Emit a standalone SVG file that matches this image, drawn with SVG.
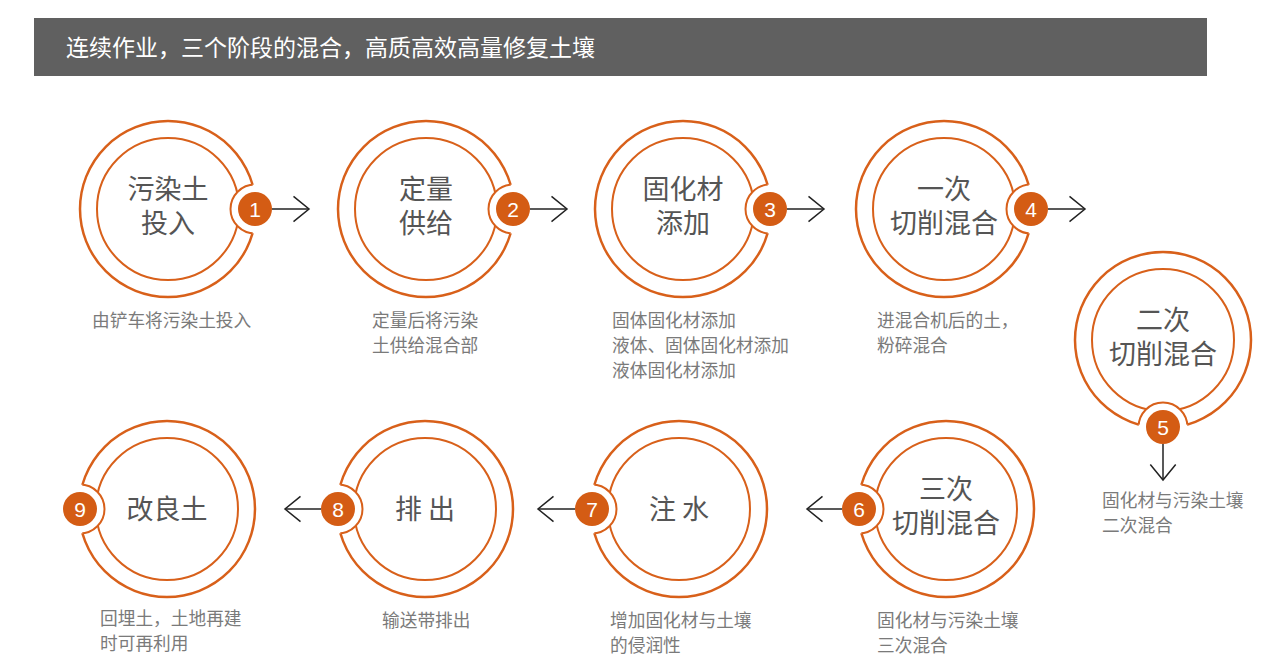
<svg xmlns="http://www.w3.org/2000/svg" width="1278" height="672" viewBox="0 0 1278 672">
<style>
.bg{fill:#ffffff}
.ring{fill:none;stroke:#d8601a;stroke-width:2.5}
.inner{fill:none;stroke:#d8601a;stroke-width:2}
.gap{fill:#ffffff;stroke:none}
.gaparc{fill:none;stroke:#d8601a;stroke-width:2}
.badge{fill:#d45c14}
.num{font-family:"Liberation Sans",Arial,sans-serif;font-size:21px;fill:#ffffff;text-anchor:middle}
.title{font-family:"Noto Sans CJK SC",sans-serif;font-size:27px;fill:#555555;text-anchor:middle}
.desc{font-family:"Noto Sans CJK SC",sans-serif;font-size:17.7px;fill:#7a7a7a}
.head{font-family:"Noto Sans CJK SC",sans-serif;font-size:23px;fill:#ffffff}
.arrow{fill:none;stroke:#222222;stroke-width:1.5;marker-end:url(#chev)}
</style>
<defs>
<clipPath id="outerclip" clipPathUnits="userSpaceOnUse"><circle cx="0" cy="0" r="88"/></clipPath>
<marker id="chev" markerUnits="userSpaceOnUse" viewBox="-17 -14 19 28" refX="0" refY="0" markerWidth="19" markerHeight="28" orient="auto">
<path d="M-15.5,-12.7 L0,0 L-15.5,12.7" fill="none" stroke="#222222" stroke-width="1.5"/>
</marker>
</defs>
<rect class="bg" x="0" y="0" width="1278" height="672"/>
<g id="header">
<rect x="34" y="18" width="1173" height="58" fill="#606060"/>
<text class="head" x="66" y="56">连续作业，三个阶段的混合，高质高效高量修复土壤</text>
</g>

<g id="node1" transform="translate(168,209)">
<circle class="ring" r="88"/><circle class="inner" r="71"/>
<circle class="gap" cx="87" cy="0" r="24.5"/>
<circle class="gaparc" cx="87" cy="0" r="24.5" clip-path="url(#outerclip)"/>
<circle class="badge" cx="87" cy="0" r="17"/>
<text class="num" x="87" y="7.5">1</text>
<text class="title" x="0" y="-10"><tspan x="0">污染土</tspan><tspan x="0" dy="34">投入</tspan></text>
</g>
<g id="node2" transform="translate(426,209)">
<circle class="ring" r="88"/><circle class="inner" r="71"/>
<circle class="gap" cx="87" cy="0" r="24.5"/>
<circle class="gaparc" cx="87" cy="0" r="24.5" clip-path="url(#outerclip)"/>
<circle class="badge" cx="87" cy="0" r="17"/>
<text class="num" x="87" y="7.5">2</text>
<text class="title" x="0" y="-10"><tspan x="0">定量</tspan><tspan x="0" dy="34">供给</tspan></text>
</g>
<g id="node3" transform="translate(683,209)">
<circle class="ring" r="88"/><circle class="inner" r="71"/>
<circle class="gap" cx="87" cy="0" r="24.5"/>
<circle class="gaparc" cx="87" cy="0" r="24.5" clip-path="url(#outerclip)"/>
<circle class="badge" cx="87" cy="0" r="17"/>
<text class="num" x="87" y="7.5">3</text>
<text class="title" x="0" y="-10"><tspan x="0">固化材</tspan><tspan x="0" dy="34">添加</tspan></text>
</g>
<g id="node4" transform="translate(944,209)">
<circle class="ring" r="88"/><circle class="inner" r="71"/>
<circle class="gap" cx="87" cy="0" r="24.5"/>
<circle class="gaparc" cx="87" cy="0" r="24.5" clip-path="url(#outerclip)"/>
<circle class="badge" cx="87" cy="0" r="17"/>
<text class="num" x="87" y="7.5">4</text>
<text class="title" x="0" y="-10"><tspan x="0">一次</tspan><tspan x="0" dy="34">切削混合</tspan></text>
</g>
<g id="node5" transform="translate(1163,340)">
<circle class="ring" r="88"/><circle class="inner" r="71"/>
<circle class="gap" cx="0" cy="87" r="24.5"/>
<circle class="gaparc" cx="0" cy="87" r="24.5" clip-path="url(#outerclip)"/>
<circle class="badge" cx="0" cy="87" r="17"/>
<text class="num" x="0" y="94.5">5</text>
<text class="title" x="0" y="-10"><tspan x="0">二次</tspan><tspan x="0" dy="34">切削混合</tspan></text>
</g>
<g id="node6" transform="translate(946,509)">
<circle class="ring" r="88"/><circle class="inner" r="71"/>
<circle class="gap" cx="-87" cy="0" r="24.5"/>
<circle class="gaparc" cx="-87" cy="0" r="24.5" clip-path="url(#outerclip)"/>
<circle class="badge" cx="-87" cy="0" r="17"/>
<text class="num" x="-87" y="7.5">6</text>
<text class="title" x="0" y="-10"><tspan x="0">三次</tspan><tspan x="0" dy="34">切削混合</tspan></text>
</g>
<g id="node7" transform="translate(679,509)">
<circle class="ring" r="88"/><circle class="inner" r="71"/>
<circle class="gap" cx="-87" cy="0" r="24.5"/>
<circle class="gaparc" cx="-87" cy="0" r="24.5" clip-path="url(#outerclip)"/>
<circle class="badge" cx="-87" cy="0" r="17"/>
<text class="num" x="-87" y="7.5">7</text>
<text class="title" x="0" y="10">注 水</text>
</g>
<g id="node8" transform="translate(425,509)">
<circle class="ring" r="88"/><circle class="inner" r="71"/>
<circle class="gap" cx="-87" cy="0" r="24.5"/>
<circle class="gaparc" cx="-87" cy="0" r="24.5" clip-path="url(#outerclip)"/>
<circle class="badge" cx="-87" cy="0" r="17"/>
<text class="num" x="-87" y="7.5">8</text>
<text class="title" x="0" y="10">排 出</text>
</g>
<g id="node9" transform="translate(167,509)">
<circle class="ring" r="88"/><circle class="inner" r="71"/>
<circle class="gap" cx="-87" cy="0" r="24.5"/>
<circle class="gaparc" cx="-87" cy="0" r="24.5" clip-path="url(#outerclip)"/>
<circle class="badge" cx="-87" cy="0" r="17"/>
<text class="num" x="-87" y="7.5">9</text>
<text class="title" x="0" y="10">改良土</text>
</g>

<g id="connectors">
<line class="arrow" x1="272" y1="209" x2="309" y2="209"/>
<line class="arrow" x1="530" y1="209" x2="567" y2="209"/>
<line class="arrow" x1="787" y1="209" x2="824" y2="209"/>
<line class="arrow" x1="1048" y1="209" x2="1085" y2="209"/>
<line class="arrow" x1="1163" y1="444" x2="1163" y2="480"/>
<line class="arrow" x1="842" y1="509" x2="807" y2="509"/>
<line class="arrow" x1="575" y1="509" x2="538" y2="509"/>
<line class="arrow" x1="321" y1="509" x2="285" y2="509"/>
</g>

<g id="descriptions">
<text class="desc" x="92" y="327">由铲车将污染土投入</text>
<text class="desc" x="372" y="327">定量后将污染</text>
<text class="desc" x="372" y="352">土供给混合部</text>
<text class="desc" x="612" y="327">固体固化材添加</text>
<text class="desc" x="612" y="352">液体、固体固化材添加</text>
<text class="desc" x="612" y="377">液体固化材添加</text>
<text class="desc" x="877" y="327">进混合机后的土，</text>
<text class="desc" x="877" y="352">粉碎混合</text>
<text class="desc" x="1102" y="507">固化材与污染土壤</text>
<text class="desc" x="1102" y="532">二次混合</text>
<text class="desc" x="877" y="627">固化材与污染土壤</text>
<text class="desc" x="877" y="652">三次混合</text>
<text class="desc" x="610" y="627">增加固化材与土壤</text>
<text class="desc" x="610" y="652">的侵润性</text>
<text class="desc" x="382" y="627">输送带排出</text>
<text class="desc" x="100" y="625">回埋土，土地再建</text>
<text class="desc" x="100" y="650">时可再利用</text>
</g>
</svg>
